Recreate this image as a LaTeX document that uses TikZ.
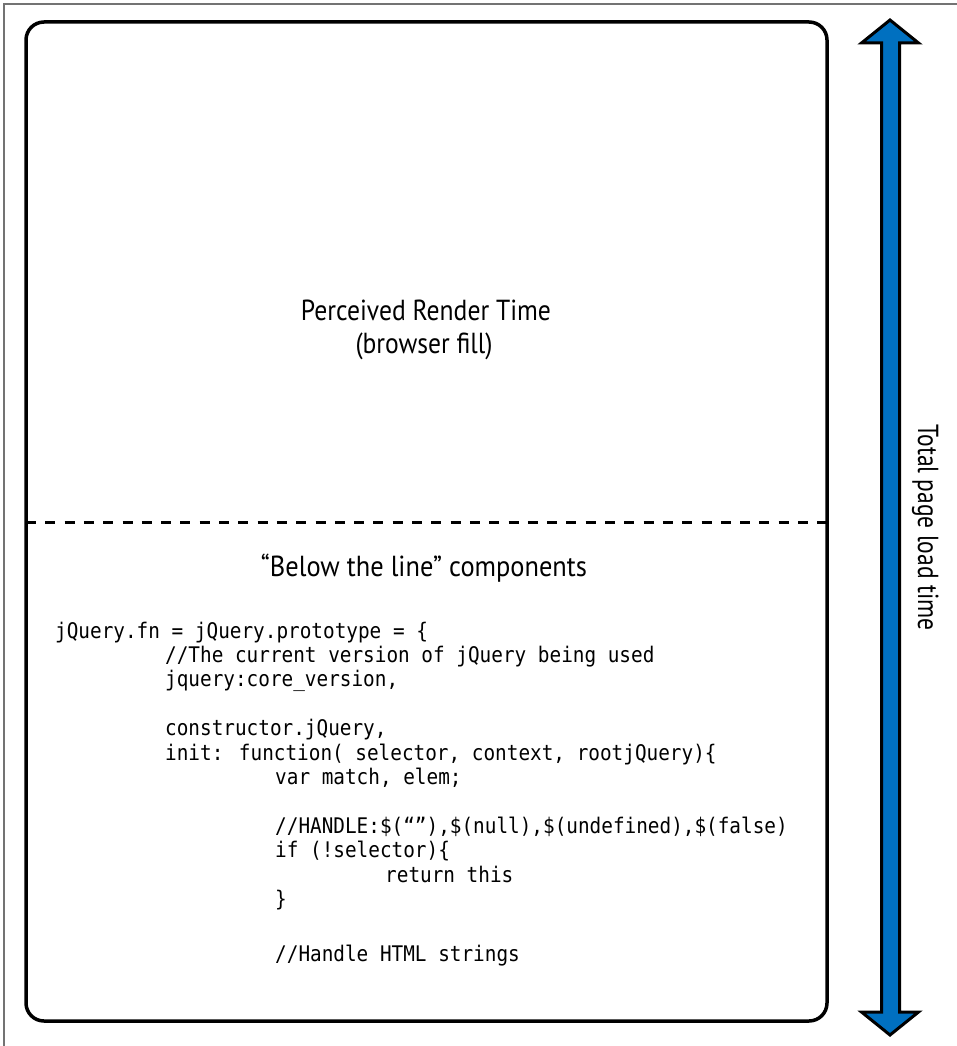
\documentclass[tikz,border=0pt]{standalone}
\usepackage{fontspec}
\usepackage{graphicx}
\newfontfamily\labelfont[FakeStretch=0.88]{PT Sans}
\newfontfamily\codefont[FakeStretch=0.9]{DejaVu Sans Mono}
\definecolor{loadblue}{RGB}{0,112,192}
% set a label at its natural height, scaled to a given width
\newcommand\fitwidth[2]{\resizebox{#1}{\height}{#2}}
\begin{document}
\begin{tikzpicture}[x=1pt,y=-1pt,
  frame/.style={draw=black!55,line width=1.2pt},
  panel/.style={draw=black,line width=3.5pt,rounded corners=18pt},
  fold/.style={draw=black,line width=3pt,dash pattern=on 10pt off 9.3pt},
  heading/.style={inner sep=0pt,anchor=base,font=\labelfont\fontsize{29}{30}\selectfont},
  codeline/.style={anchor=base west,inner sep=0pt,font=\codefont\fontsize{21.5}{24}\selectfont},
  spanarrow/.style={fill=loadblue,draw=black,line width=3pt,line join=miter}]
\useasboundingbox (0,0) rectangle (957,1046);

% outer hairline frame (top and left edges only)
\draw[frame] (4,1046) -- (4,4) -- (957,4);

% main panel and the fold line
\draw[panel] (26,22) rectangle (827,1021);
\draw[fold] (26,522) -- (827,522);

% headings
\node[heading] (render) at (426,320) {\fitwidth{250pt}{Perceived Render Time}};
\node[heading] (fill) at (424,353) {\fitwidth{137pt}{(browser fill)}};
\node[heading] (below) at (424,576) {\fitwidth{326pt}{“Below the line” components}};

% code listing below the fold
\node[codeline] (c0)  at (55,638.0)  {jQuery.fn = jQuery.prototype = \{};
\node[codeline] (c1)  at (165,662.4) {//The current version of jQuery being used};
\node[codeline] (c2)  at (165,686.8) {jquery:core\_version,};
\node[codeline] (c4)  at (165,735.6) {constructor.jQuery,};
\node[codeline] (c5)  at (165,760.0) {init: function( selector, context, rootjQuery)\{};
\node[codeline] (c6)  at (275,784.4) {var match, elem;};
\node[codeline] (c8)  at (275,833.2) {//HANDLE:\$(“”),\$(null),\$(undefined),\$(false)};
\node[codeline] (c9)  at (275,857.6) {if (!selector)\{};
\node[codeline] (c10) at (385,882.0) {return this};
\node[codeline] (c11) at (275,906.4) {\}};
\node[codeline] (c13) at (275,961.0) {//Handle HTML strings};

% double-headed span arrow with its label
\draw[spanarrow] (881.5,43) -- (861.5,43) -- (890,20) -- (918.5,43) -- (899.5,43)
  -- (899.5,1012) -- (918.5,1012) -- (890,1035) -- (861.5,1012) -- (881.5,1012) -- cycle;
\node[heading,rotate=-90] (total) at (918,527.5) {\fitwidth{206pt}{Total page load time}};
\end{tikzpicture}
\end{document}
